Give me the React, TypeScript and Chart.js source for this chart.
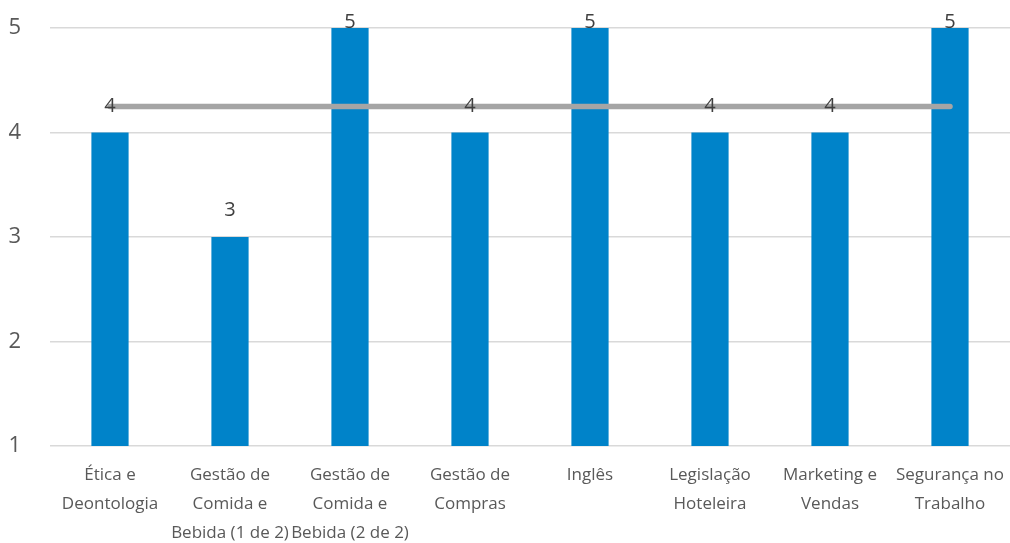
import React, { useEffect, useRef } from "react";
import { Chart, registerables } from "chart.js";

Chart.register(...registerables);

const categories: string[][] = [
  ["Ética e", "Deontologia"],
  ["Gestão de", "Comida e", "Bebida (1 de 2)"],
  ["Gestão de", "Comida e", "Bebida (2 de 2)"],
  ["Gestão de", "Compras"],
  ["Inglês"],
  ["Legislação", "Hoteleira"],
  ["Marketing e", "Vendas"],
  ["Segurança no", "Trabalho"],
];

const scores: number[] = [4, 3, 5, 4, 5, 4, 4, 5];
const average: number[] = [4.25, 4.25, 4.25, 4.25, 4.25, 4.25, 4.25, 4.25];
const yTicks: number[] = [1, 2, 3, 4, 5];

const FONT = "'Open Sans', sans-serif";

// Value labels printed above each bar, kept inside the plot area at the top.
const barValueLabels = {
  id: "barValueLabels",
  afterDatasetsDraw(chart: any) {
    const meta = chart.getDatasetMeta(1);
    const ctx = chart.ctx;
    ctx.save();
    ctx.font = `20px ${FONT}`;
    ctx.fillStyle = "#404040";
    ctx.textAlign = "center";
    ctx.textBaseline = "alphabetic";
    meta.data.forEach((bar: any, i: number) => {
      const y = Math.max(bar.y - 21, chart.chartArea.top);
      ctx.fillText(String(scores[i]), bar.x, y);
    });
    ctx.restore();
  },
};

export default function App() {
  const canvasRef = useRef<HTMLCanvasElement | null>(null);

  useEffect(() => {
    if (!canvasRef.current) return;
    const chart = new Chart(canvasRef.current, {
      type: "bar",
      data: {
        labels: categories,
        datasets: [
          {
            type: "line",
            data: average,
            borderColor: "#A5A5A5",
            borderWidth: 5.5,
            borderCapStyle: "round",
            pointRadius: 0,
            order: 0,
          } as any,
          {
            type: "bar",
            data: scores,
            backgroundColor: "#0083C9",
            barPercentage: 0.31,
            categoryPercentage: 1,
            order: 1,
          },
        ],
      },
      options: {
        responsive: false,
        animation: false,
        layout: { padding: { top: 28, left: 0, right: 0, bottom: 0 } },
        plugins: {
          legend: { display: false },
          tooltip: { enabled: false },
        },
        scales: {
          x: {
            offset: true,
            grid: { display: false, drawTicks: false },
            border: { display: false },
            ticks: {
              autoSkip: false,
              maxRotation: 0,
              minRotation: 0,
              padding: 15,
              color: "#595959",
              font: { family: FONT, size: 17, lineHeight: 1.7 },
            },
            afterFit(scale: any) {
              scale.height = 97;
              scale.paddingLeft = 0;
              scale.paddingRight = 0;
            },
          },
          y: {
            min: 1,
            max: 5,
            afterBuildTicks(scale: any) {
              scale.ticks = yTicks.map((v) => ({ value: v }));
            },
            grid: { color: "#D9D9D9", lineWidth: 1.5, drawTicks: false },
            border: { display: false },
            ticks: {
              padding: 29,
              color: "#595959",
              font: { family: FONT, size: 22 },
            },
            afterFit(scale: any) {
              scale.width = 50;
              scale.paddingTop = 0;
              scale.paddingBottom = 0;
            },
          },
        },
      },
      plugins: [barValueLabels],
    });
    return () => chart.destroy();
  }, []);

  return (
    <div style={{ position: "fixed", left: 0, top: 0, width: 1010, height: 543, background: "#fff" }}>
      <canvas ref={canvasRef} width={1010} height={543} style={{ display: "block" }} />
    </div>
  );
}
